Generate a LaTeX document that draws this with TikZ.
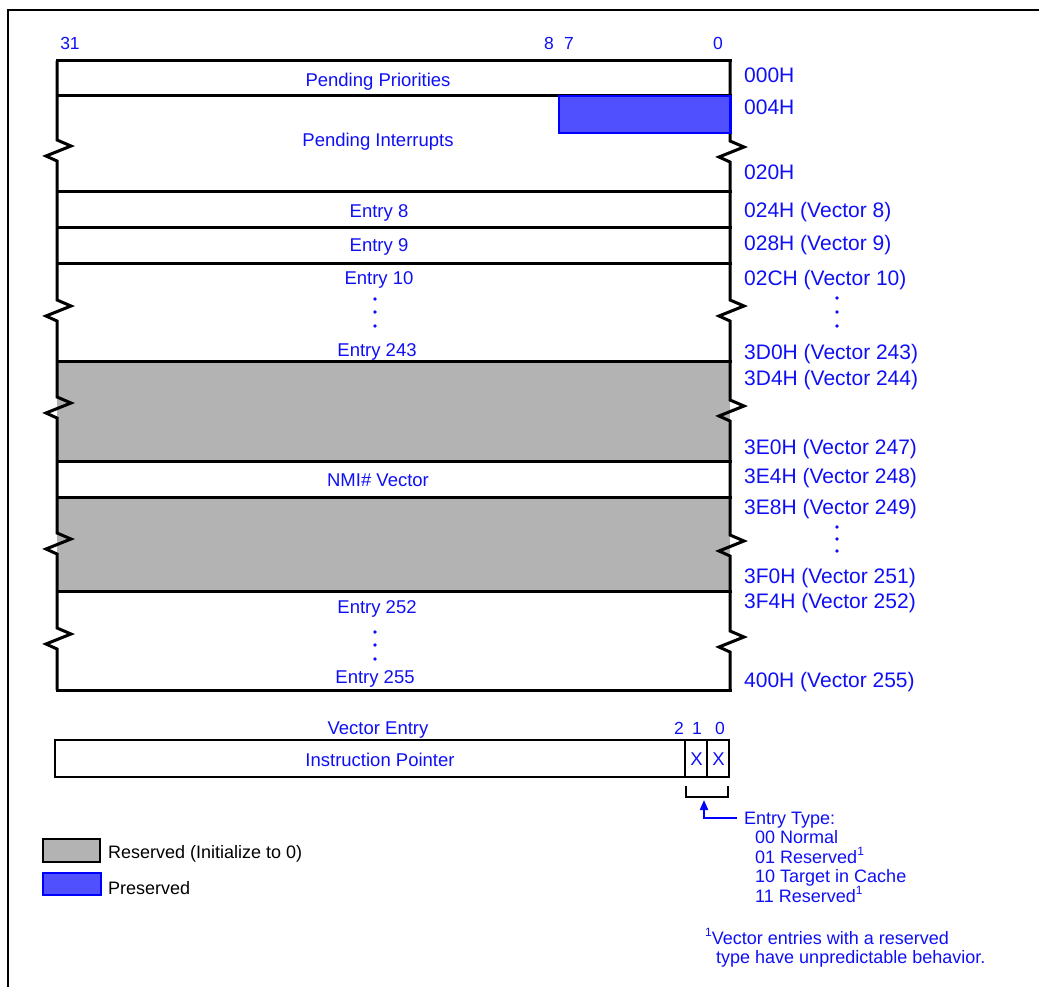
\documentclass[tikz,border=0pt]{standalone}
\usepackage{fontspec}
\setmainfont{Liberation Sans}
\usetikzlibrary{arrows.meta}
\definecolor{txtblue}{RGB}{15,15,245}
\definecolor{presfill}{RGB}{80,80,255}
\definecolor{presline}{RGB}{0,0,255}
\definecolor{resgray}{RGB}{179,179,179}
\newcommand{\fsMain}{\fontsize{18.5}{22}\selectfont}
\newcommand{\fsAddr}{\fontsize{21}{25}\selectfont}
\newcommand{\fsBit}{\fontsize{17.5}{21}\selectfont}
\newcommand{\fsNote}{\fontsize{18}{21}\selectfont}
\newcommand{\supone}{\raisebox{0.42em}{\fontsize{12}{12}\selectfont 1}}
\newcommand{\zig}[2]{-- (#1,#2-10) -- (#1+14,#2-4) -- (#1-11,#2+6) -- (#1,#2+11)}
\tikzset{
  lbl/.style={text=txtblue, font=\fsMain, inner sep=0pt, text height=13.3pt, text depth=0pt},
  addr/.style={text=txtblue, font=\fsAddr, inner sep=0pt, text height=15pt, text depth=0pt, anchor=west},
  bit/.style={text=txtblue, font=\fsBit, inner sep=0pt, text height=12.5pt, text depth=0pt},
  note/.style={text=txtblue, font=\fsNote, inner sep=0pt, text height=12.9pt, text depth=0pt, anchor=west},
  legendtext/.style={note, text=black},
  tbl/.style={line width=3pt, line join=miter},
  hl/.style={line width=3pt, line cap=rect},
  vdot/.style={fill=txtblue},
}
\begin{document}
\begin{tikzpicture}[x=1pt, y=-1pt]
\useasboundingbox (0,0) rectangle (1039,987);
% outer frame
\draw[line width=2pt] (8,990) -- (8,10) -- (1045,10);

% gray fills
\fill[resgray] (57,361) rectangle (730,461);
\fill[resgray] (57,497) rectangle (730,591);

% horizontal lines
\foreach \yy in {61,96,192,228,264,361,461,497,591,690}
  \draw[hl] (57,\yy) -- (730,\yy);

% side edges with break marks
\draw[tbl] (57,61) \zig{57}{150} \zig{57}{310} \zig{57}{407} \zig{57}{543} \zig{57}{638} -- (57,690);
\draw[tbl] (730,61) \zig{730}{151} \zig{730}{310} \zig{730}{410} \zig{730}{545} \zig{730}{641} -- (730,690);

% preserved field
\draw[presline, line width=2.5pt, fill=presfill] (559,96) rectangle (730.5,133);

% bit numbers
\node[bit] (b31) at (70,43) {31};
\node[bit] (b8) at (549,43) {8};
\node[bit] (b7) at (569,43) {7};
\node[bit] (b0) at (718,43) {0};

% field labels
\node[lbl] (pp) at (378,80) {Pending Priorities};
\node[lbl] (pi) at (378,140) {Pending Interrupts};
\node[lbl] (e8) at (379,211) {Entry 8};
\node[lbl] (e9) at (379,245) {Entry 9};
\node[lbl] (e10) at (379,278) {Entry 10};
\node[lbl] (e243) at (377,350) {Entry 243};
\node[lbl] (nmi) at (378,480) {NMI\# Vector};
\node[lbl] (e252) at (377,607) {Entry 252};
\node[lbl] (e255) at (375,677) {Entry 255};
\foreach \yy in {299,312,326} \fill[vdot] (375,\yy) circle (1.9);
\foreach \yy in {632,645,659} \fill[vdot] (375,\yy) circle (1.9);

% addresses
\node[addr] (a000) at (744,75) {000H};
\node[addr] (a004) at (744,107) {004H};
\node[addr] (a020) at (744,172) {020H};
\node[addr] (a024) at (744,210) {024H (Vector 8)};
\node[addr] (a028) at (744,243) {028H (Vector 9)};
\node[addr] (a02c) at (744,278) {02CH (Vector 10)};
\foreach \yy in {298,312,326} \fill[vdot] (837,\yy) circle (1.9);
\node[addr] (a3d0) at (744,352) {3D0H (Vector 243)};
\node[addr] (a3d4) at (744,378) {3D4H (Vector 244)};
\node[addr] (a3e0) at (744,447) {3E0H (Vector 247)};
\node[addr] (a3e4) at (744,476) {3E4H (Vector 248)};
\node[addr] (a3e8) at (744,507) {3E8H (Vector 249)};
\foreach \yy in {527,539,551} \fill[vdot] (837,\yy) circle (1.9);
\node[addr] (a3f0) at (744,576) {3F0H (Vector 251)};
\node[addr] (a3f4) at (744,601) {3F4H (Vector 252)};
\node[addr] (a400) at (744,680) {400H (Vector 255)};

% vector entry
\node[lbl] (ve) at (378,728) {Vector Entry};
\node[bit] (vb2) at (679,728) {2};
\node[bit] (vb1) at (697,728) {1};
\node[bit] (vb0) at (720,728) {0};
\draw[line width=2.7pt] (55,740) rectangle (729,777);
\draw[line width=2.7pt] (685,740) -- (685,777);
\draw[line width=2.7pt] (707,740) -- (707,777);
\node[lbl] (ip) at (380,760) {Instruction Pointer};
\node[lbl] (x1) at (696.5,759) {X};
\node[lbl] (x0) at (718.5,759) {X};

% bracket and entry type
\draw[line width=2pt] (686,786) -- (686,797) -- (728,797) -- (728,786);
\coordinate (brk) at (704,800);
\node[note] (et) at (744,818) {Entry Type:};
\node[note] (t00) at (755,837) {00 Normal};
\node[note] (t01) at (755,857) {01 Reserved\supone};
\node[note] (t10) at (755,876) {10 Target in Cache};
\node[note] (t11) at (755,896) {11 Reserved\supone};
\draw[presline, line width=2pt, -{Triangle[width=8pt,length=10pt]}] ([xshift=-7pt]et.west) -| (brk);

% legend
\draw[line width=2.5pt, fill=resgray] (43,839) rectangle (100,862);
\node[legendtext] (lr) at (108,852) {Reserved (Initialize to 0)};
\draw[presline, line width=2.5pt, fill=presfill] (43,873) rectangle (101,895);
\node[legendtext] (lp) at (108,888) {Preserved};

% footnote
\node[note, anchor=base west] (fn1) at (705,944.5) {\supone Vector entries with a reserved};
\node[note, anchor=base west] (fn2) at (716,963.5) {type have unpredictable behavior.};
\end{tikzpicture}
\end{document}
